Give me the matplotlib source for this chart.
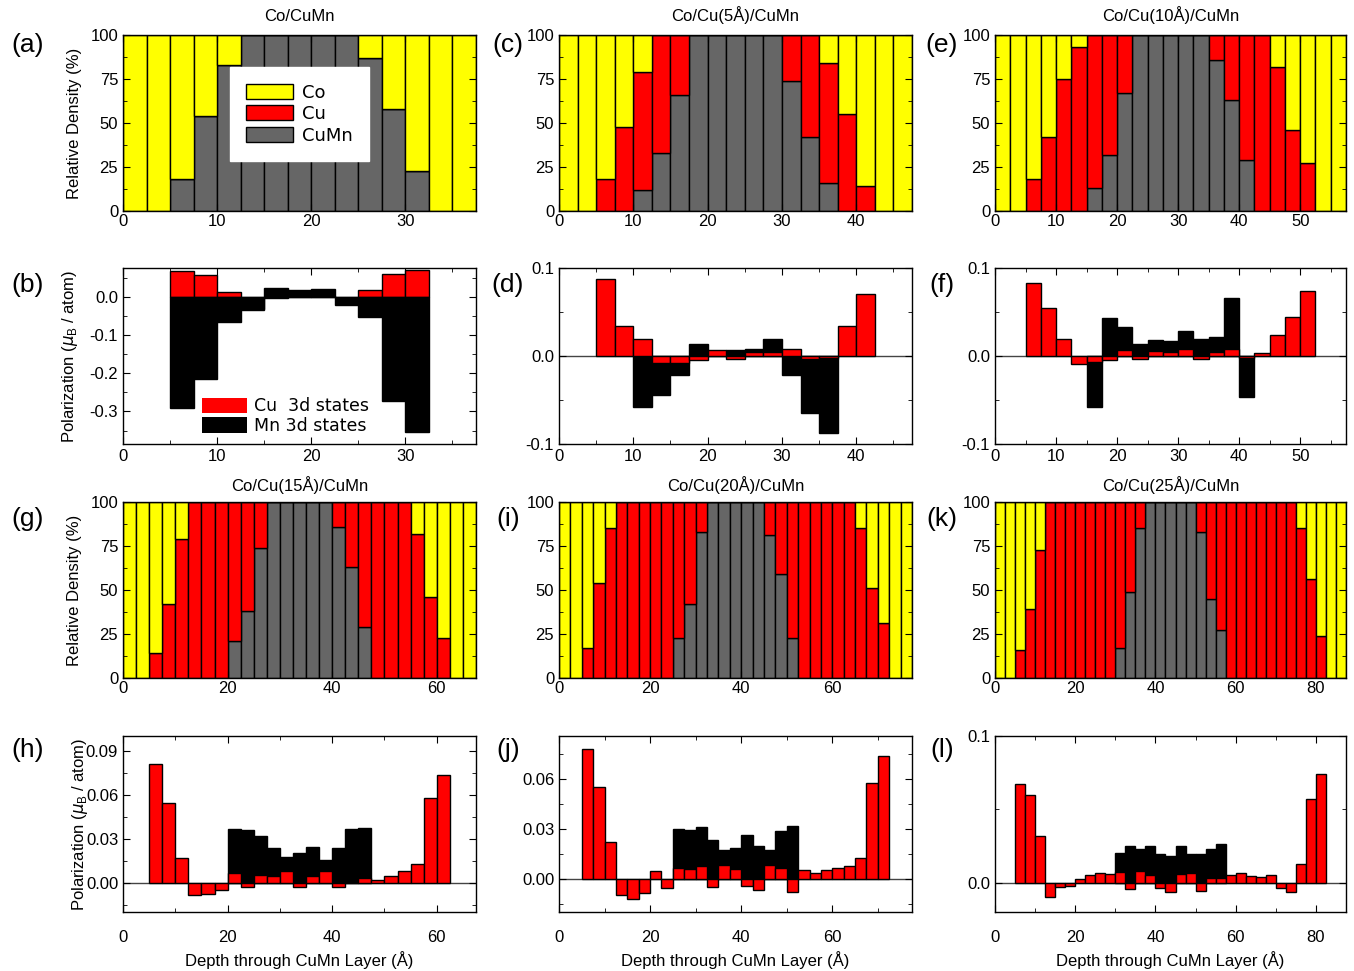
import numpy as np
import matplotlib
matplotlib.use('Agg')
import matplotlib.pyplot as plt
from matplotlib.patches import Patch
from matplotlib.ticker import MultipleLocator, FormatStrFormatter

plt.rcParams['font.family'] = ['Liberation Sans', 'DejaVu Sans']

nan = np.nan
W = 2.5  # bin width in Angstrom

# relative density (%) per 2.5 A bin: CuMn (bottom) and Cu (middle), Co fills the rest
a_cumn = [0, 0, 18, 54, 83, 100, 100, 100, 100, 100, 87, 58, 23, 0, 0]
a_cu = [0] * 15
c_cumn = [0, 0, 0, 0, 12, 33, 66, 100, 100, 100, 100, 100, 74, 42, 16, 0, 0, 0, 0]
c_cu = [0, 0, 18, 48, 67, 67, 34, 0, 0, 0, 0, 0, 26, 58, 68, 55, 14, 0, 0]
e_cumn = [0, 0, 0, 0, 0, 0, 13, 32, 67, 100, 100, 100, 100, 100, 86, 63, 29, 0, 0, 0, 0, 0, 0]
e_cu = [0, 0, 18, 42, 75, 93, 87, 68, 33, 0, 0, 0, 0, 0, 14, 37, 71, 100, 82, 46, 27, 0, 0]
g_cumn = [0] * 8 + [21, 38, 74] + [100] * 5 + [86, 63, 29] + [0] * 8
g_cu = [0, 0, 14, 42, 79, 100, 100, 100, 79, 62, 26, 0, 0, 0, 0, 0,
        14, 37, 71, 100, 100, 100, 82, 46, 23, 0, 0]
i_cumn = [0] * 10 + [23, 42, 83] + [100] * 5 + [81, 59, 23] + [0] * 10
i_cu = [0, 0, 17, 54, 85, 100, 100, 100, 100, 100, 77, 58, 17, 0, 0, 0, 0, 0,
        19, 41, 77, 100, 100, 100, 100, 100, 85, 51, 31, 0, 0]
k_cumn = [0] * 12 + [17, 49, 85] + [100] * 5 + [83, 45, 27] + [0] * 12
k_cu = [0, 0, 16, 39, 73] + [100] * 7 + [83, 51, 15] + [0] * 5 + [17, 55, 73] + [100] * 7 + [85, 56, 24, 0, 0]

# polarization (muB / atom): Cu 3d and Mn 3d states
b_cu = [nan, nan, 0.066, 0.057, 0.013, -0.035, -0.004, 0.002, 0.001, 0.0, 0.017, 0.059, 0.070, nan, nan]
b_mn = [nan, nan, -0.291, -0.215, -0.067, -0.032, 0.022, 0.018, 0.020, -0.021, -0.054, -0.272, -0.353, nan, nan]
d_cu = [nan, nan, 0.088, 0.034, 0.019, -0.008, -0.0075, -0.005, 0.007, -0.003, 0.005, 0.0045,
        0.008, -0.003, -0.002, 0.034, 0.071, nan, nan]
d_mn = [nan, nan, nan, nan, -0.058, -0.044, -0.022, 0.0136, 0.004, 0.0068, 0.008, 0.019,
        -0.022, -0.065, -0.087, nan, nan, nan, nan]
f_cu = [nan, nan, 0.0835, 0.055, 0.019, -0.0087, -0.007, -0.005, 0.0068, -0.003, 0.0053, 0.0045,
        0.0076, -0.003, 0.0045, 0.0076, -0.0027, 0.0034, 0.0235, 0.044, 0.074, nan, nan]
f_mn = [nan] * 6 + [-0.058, 0.043, 0.0325, 0.0136, 0.0178, 0.017, 0.028, 0.019, 0.022,
                    0.0655, -0.047] + [nan] * 6
h_cu = [nan, nan, 0.0812, 0.0544, 0.0168, -0.0082, -0.0077, -0.0052, 0.0066, -0.0032, 0.0052,
        0.0045, 0.0077, -0.0032, 0.0045, 0.0077, -0.0032, 0.0005, 0.0032, 0.002, 0.0048, 0.0077,
        0.0127, 0.0574, 0.0737, nan, nan]
h_mn = [nan] * 8 + [0.0367, 0.0358, 0.0317, 0.0234, 0.0177, 0.020, 0.024, 0.0156, 0.0234,
                    0.0367, 0.0374] + [nan] * 8
j_cu = [nan, nan, 0.078, 0.0553, 0.0218, -0.0096, -0.0124, -0.0086, 0.0046, -0.0058,
        0.0062, 0.0058, 0.0074, -0.0048, 0.0082, 0.0056, -0.0046, -0.0066, 0.0082, 0.0064, -0.0078,
        0.005, 0.0032, 0.0052, 0.0064, 0.0074, 0.0126, 0.0575, 0.0738, nan, nan]
j_mn = [nan] * 10 + [0.0297, 0.0291, 0.0313, 0.0232, 0.0172, 0.0184, 0.0265, 0.0196, 0.0172,
                     0.0285, 0.0319] + [nan] * 10
l_cu = [nan, nan, 0.0675, 0.0598, 0.032, -0.0095, -0.003, -0.0023, 0.0027, 0.0052, 0.0064, 0.0057,
        0.0075, -0.0045, 0.0082, 0.0055, -0.0034, -0.0066, 0.0061, 0.0064, -0.0055, 0.0034, 0.003,
        0.0052, 0.0066, 0.0048, 0.0041, 0.0052, -0.0034, -0.0064, 0.0125, 0.0573, 0.0739, nan, nan]
l_mn = [nan] * 12 + [0.0202, 0.025, 0.0232, 0.0252, 0.0198, 0.018, 0.0248, 0.0198, 0.0198,
                     0.0227, 0.0264] + [nan] * 12

titles = ['Co/CuMn', 'Co/Cu(5Å)/CuMn', 'Co/Cu(10Å)/CuMn',
          'Co/Cu(15Å)/CuMn', 'Co/Cu(20Å)/CuMn', 'Co/Cu(25Å)/CuMn']

YEL, RED, GRY = '#ffff00', '#ff0000', '#666666'
W_PX, H_PX = 1354, 971

fig = plt.figure(figsize=(W_PX / 100, H_PX / 100), dpi=100)


def add_ax(x0, x1, y0, y1):
    return fig.add_axes([x0 / W_PX, 1 - y1 / H_PX, (x1 - x0) / W_PX, (y1 - y0) / H_PX])


def style(ax, xmajor, xminor):
    ax.xaxis.set_major_locator(MultipleLocator(xmajor))
    ax.xaxis.set_minor_locator(MultipleLocator(xminor))
    ax.tick_params(which='both', direction='in', top=True, right=True, labelsize=12)
    ax.tick_params(which='major', length=5)
    ax.tick_params(which='minor', length=3)
    for s in ax.spines.values():
        s.set_linewidth(1.0)


def density(ax, cumn, cu, xmajor, title, pad):
    cumn = np.array(cumn, float)
    cu = np.array(cu, float)
    co = 100 - cumn - cu
    x = np.arange(len(cumn)) * W
    ax.bar(x, cumn, W, align='edge', color=GRY, edgecolor='black', linewidth=1)
    ax.bar(x, cu, W, bottom=cumn, align='edge', color=RED, edgecolor='black', linewidth=1)
    ax.bar(x, co, W, bottom=cumn + cu, align='edge', color=YEL, edgecolor='black', linewidth=1)
    ax.set_xlim(0, len(cumn) * W)
    ax.set_ylim(0, 100)
    ax.yaxis.set_major_locator(MultipleLocator(25))
    ax.yaxis.set_minor_locator(MultipleLocator(12.5))
    style(ax, xmajor, xmajor / 2)
    ax.tick_params(axis='x', pad=2)
    ax.set_title(title, fontsize=12, pad=pad)


def polar(ax, cu, mn, xmajor, red_top=True, zero=True):
    x = np.arange(len(cu)) * W
    if red_top:
        ax.bar(x, mn, W, align='edge', color='black', edgecolor='black', linewidth=1)
        ax.bar(x, cu, W, align='edge', color=RED, edgecolor='black', linewidth=1)
    else:
        ax.bar(x, cu, W, align='edge', color=RED, edgecolor='black', linewidth=1)
        ax.bar(x, mn, W, align='edge', color='black', edgecolor='black', linewidth=1)
    if zero:
        ax.axhline(0, color='#444444', linewidth=1, zorder=0.5)
    ax.set_xlim(0, len(cu) * W)
    style(ax, xmajor, xmajor / 2)


cols = [(123, 476), (559, 912), (995, 1346)]
rows = [(35, 211), (268, 444), (502, 678), (736, 912)]

# row 1: densities
ax_a = add_ax(*cols[0], *rows[0])
density(ax_a, a_cumn, a_cu, 10, titles[0], 10)
ax_c = add_ax(*cols[1], *rows[0])
density(ax_c, c_cumn, c_cu, 10, titles[1], 10)
ax_e = add_ax(*cols[2], *rows[0])
density(ax_e, e_cumn, e_cu, 10, titles[2], 10)
ax_a.set_ylabel('Relative Density (%)', fontsize=12, labelpad=6)
leg = ax_a.legend([Patch(facecolor=YEL, edgecolor='black'), Patch(facecolor=RED, edgecolor='black'),
                   Patch(facecolor=GRY, edgecolor='black')], ['Co', 'Cu', 'CuMn'],
                  loc='center', bbox_to_anchor=(0.5, 0.55), fontsize=13, frameon=True,
                  fancybox=False, edgecolor='white', framealpha=1, handlelength=2.6,
                  handleheight=0.9, borderpad=0.9, labelspacing=0.2, handletextpad=0.5,
                  borderaxespad=0)
for t in leg.get_texts():
    t.set_family('DejaVu Sans')

# row 2: polarization
ax_b = add_ax(*cols[0], *rows[1])
polar(ax_b, b_cu, b_mn, 10, red_top=False, zero=False)
ax_b.set_ylim(-0.385, 0.075)
ax_b.yaxis.set_major_locator(MultipleLocator(0.1))
ax_b.yaxis.set_minor_locator(MultipleLocator(0.05))
ax_b.yaxis.set_major_formatter(FormatStrFormatter('%.1f'))
ax_b.set_ylabel(r'Polarization ($\mu_\mathregular{B}$ / atom)', fontsize=12, labelpad=7)
lb = ax_b.legend([Patch(facecolor=RED), Patch(facecolor='black')], ['Cu  3d states', 'Mn 3d states'],
                 loc='lower center', bbox_to_anchor=(0.46, 0.05), frameon=False, fontsize=12.5,
                 handlelength=2.6, handleheight=1.0, labelspacing=0.1, handletextpad=0.4,
                 borderaxespad=0, borderpad=0)
for t in lb.get_texts():
    t.set_family('DejaVu Sans')

ax_d = add_ax(*cols[1], *rows[1])
polar(ax_d, d_cu, d_mn, 10)
ax_f = add_ax(*cols[2], *rows[1])
polar(ax_f, f_cu, f_mn, 10)
for ax in (ax_d, ax_f):
    ax.set_ylim(-0.1, 0.1)
    ax.yaxis.set_major_locator(MultipleLocator(0.1))
    ax.yaxis.set_minor_locator(MultipleLocator(0.05))
    ax.yaxis.set_major_formatter(FormatStrFormatter('%.1f'))

# row 3: densities
ax_g = add_ax(*cols[0], *rows[2])
density(ax_g, g_cumn, g_cu, 20, titles[3], 8)
ax_i = add_ax(*cols[1], *rows[2])
density(ax_i, i_cumn, i_cu, 20, titles[4], 8)
ax_k = add_ax(*cols[2], *rows[2])
density(ax_k, k_cumn, k_cu, 20, titles[5], 8)
ax_g.set_ylabel('Relative Density (%)', fontsize=12, labelpad=6)

# row 4: polarization
ax_h = add_ax(*cols[0], *rows[3])
polar(ax_h, h_cu, h_mn, 20)
ax_h.set_ylim(-0.02, 0.1)
ax_h.yaxis.set_major_locator(MultipleLocator(0.03))
ax_h.yaxis.set_minor_locator(MultipleLocator(0.015))
ax_h.yaxis.set_major_formatter(FormatStrFormatter('%.2f'))
ax_h.set_ylabel(r'Polarization ($\mu_\mathregular{B}$ / atom)', fontsize=12, labelpad=-3)

ax_j = add_ax(*cols[1], *rows[3])
polar(ax_j, j_cu, j_mn, 20)
ax_j.set_ylim(-0.02, 0.0856)
ax_j.yaxis.set_major_locator(MultipleLocator(0.03))
ax_j.yaxis.set_minor_locator(MultipleLocator(0.015))
ax_j.yaxis.set_major_formatter(FormatStrFormatter('%.2f'))

ax_l = add_ax(*cols[2], *rows[3])
polar(ax_l, l_cu, l_mn, 20)
ax_l.set_ylim(-0.02, 0.1)
ax_l.yaxis.set_major_locator(MultipleLocator(0.1))
ax_l.yaxis.set_minor_locator(MultipleLocator(0.05))
ax_l.yaxis.set_major_formatter(FormatStrFormatter('%.1f'))

for ax in (ax_h, ax_j, ax_l):
    ax.tick_params(axis='x', pad=13)
    ax.set_xlabel('Depth through CuMn Layer (Å)', fontsize=12, labelpad=4)

# panel letters
letters = [('(a)', 28, 45), ('(c)', 508, 45), ('(e)', 942, 45),
           ('(b)', 28, 285), ('(d)', 508, 285), ('(f)', 942, 285),
           ('(g)', 28, 519), ('(i)', 508, 519), ('(k)', 942, 519),
           ('(h)', 28, 750), ('(j)', 508, 750), ('(l)', 942, 750)]
for s, px, py in letters:
    fig.text(px / W_PX, 1 - py / H_PX, s, fontsize=19, ha='center', va='center')

fig.savefig('out.png', dpi=100)
